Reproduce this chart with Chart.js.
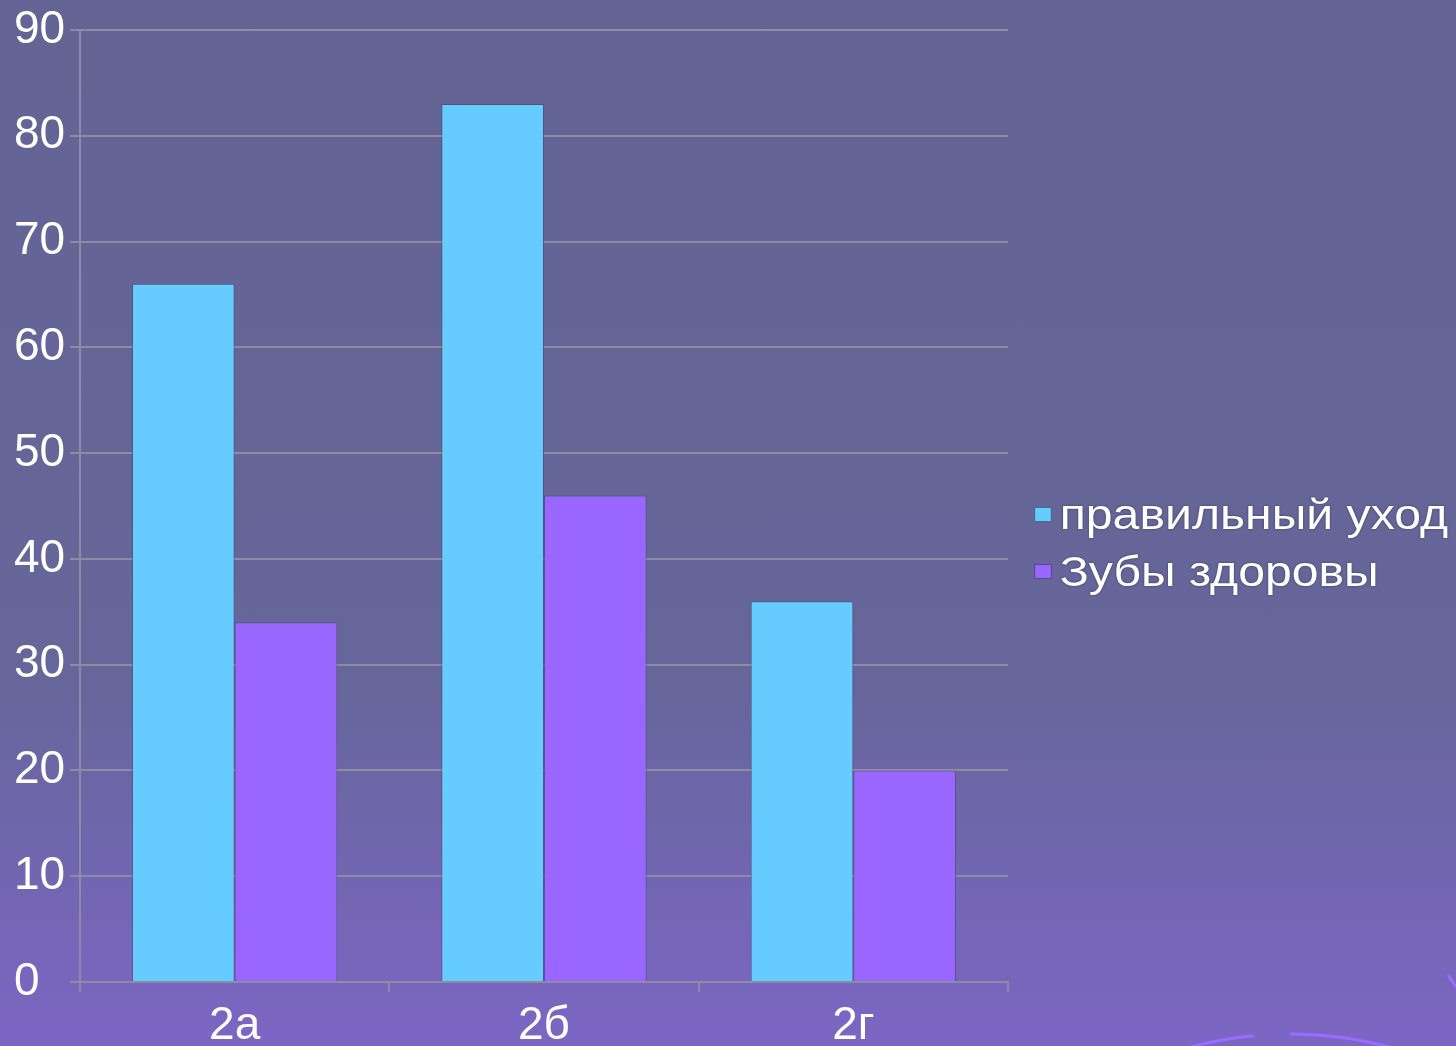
<!DOCTYPE html>
<html>
<head>
<meta charset="utf-8">
<script src="https://cdn.jsdelivr.net/npm/chart.js@4/dist/chart.umd.min.js"></script>
<style>
    body {
        margin: 0;
        width: 1456px;
        height: 1046px;
        overflow: hidden;
        background: linear-gradient(to bottom, #636394 0%, #66669a 65%, #7c66c4 100%);
        font-family: "Liberation Sans", Arial, sans-serif;
    }
    #wrap { position: absolute; left: 0; top: 0; width: 1456px; height: 1046px; }
    #legend { position: absolute; left: 1034px; top: 486px; transform: scaleX(1.12); transform-origin: left top; }
    .item { height: 57px; line-height: 57px; white-space: nowrap; color: #fff; font-size: 43px;
            text-shadow: 0 0 2px rgba(40, 40, 70, 0.8); }
    .box { display: inline-block; width: 16px; height: 15px; margin-right: 7px; vertical-align: middle;
           border: 1px solid rgba(60, 60, 100, 0.7); box-sizing: border-box; position: relative; top: -3px; }
</style>
</head>
<body>
<div id="wrap"><canvas id="chart"></canvas></div>
<div id="legend"></div>
<script>
const categories = ["2а", "2б", "2г"];
const careValues = [66, 83, 36];      // правильный уход
const healthyValues = [34, 46, 20];   // Зубы здоровы
const yTicks = [0, 10, 20, 30, 40, 50, 60, 70, 80, 90];

const gridColor = "#8c8ca6";
const font = { family: "'Liberation Sans', Arial, sans-serif", size: 46 };

// faint decorative arcs from the slide background
const decor = {
    id: "decor",
    beforeDraw(chart) {
        const ctx = chart.ctx;
        ctx.save();
        ctx.strokeStyle = "#9a6cff";
        ctx.lineWidth = 3;
        ctx.beginPath();
        ctx.arc(1290, 1420, 386, Math.PI * 1.33, Math.PI * 1.47);
        ctx.stroke();
        ctx.beginPath();
        ctx.arc(1290, 1420, 386, Math.PI * 1.5, Math.PI * 1.65);
        ctx.stroke();
        ctx.beginPath();
        ctx.moveTo(1448, 975);
        ctx.lineTo(1456, 987);
        ctx.stroke();
        ctx.restore();
    }
};

const ctx = document.getElementById("chart").getContext("2d");
const chart = new Chart(ctx, {
    type: "bar",
    data: {
        labels: categories,
        datasets: [{
            label: "правильный уход",
            data: careValues,
            backgroundColor: "#66ccff",
            borderColor: "rgba(70, 70, 110, 0.6)",
            borderWidth: 1,
            categoryPercentage: 0.664,
            barPercentage: 1
        }, {
            label: "Зубы здоровы",
            data: healthyValues,
            backgroundColor: "#9966ff",
            borderColor: "rgba(70, 70, 110, 0.6)",
            borderWidth: 1,
            categoryPercentage: 0.664,
            barPercentage: 1
        }]
    },
    options: {
        responsive: true,
        maintainAspectRatio: false,
        animation: false,
        layout: { padding: { top: 30, right: 448, bottom: 0, left: 14 } },
        plugins: {
            legend: { display: false },
            tooltip: { enabled: false }
        },
        scales: {
            x: {
                offset: true,
                grid: { offset: true, drawOnChartArea: false, drawTicks: true, tickLength: 10, color: gridColor, lineWidth: 2 },
                border: { color: gridColor, width: 2 },
                ticks: { color: "#ffffff", font: font, padding: 7 },
                afterFit(scale) { scale.height = 64; }
            },
            y: {
                min: 0,
                max: 90,
                afterBuildTicks(scale) { scale.ticks = yTicks.map(v => ({ value: v })); },
                grid: { color: gridColor, lineWidth: 2, tickLength: 10 },
                border: { color: gridColor, width: 2 },
                ticks: { color: "#ffffff", font: font, padding: 6, crossAlign: "far" },
                afterFit(scale) {
                    scale.width = 66;
                    scale.paddingTop = 0;
                    scale.paddingBottom = 0;
                }
            }
        }
    },
    plugins: [decor]
});

// html legend built from the datasets
const legend = document.getElementById("legend");
chart.data.datasets.forEach(function (ds) {
    const row = document.createElement("div");
    row.className = "item";
    const box = document.createElement("span");
    box.className = "box";
    box.style.background = ds.backgroundColor;
    row.appendChild(box);
    row.appendChild(document.createTextNode(ds.label));
    legend.appendChild(row);
});
</script>
</body>
</html>
